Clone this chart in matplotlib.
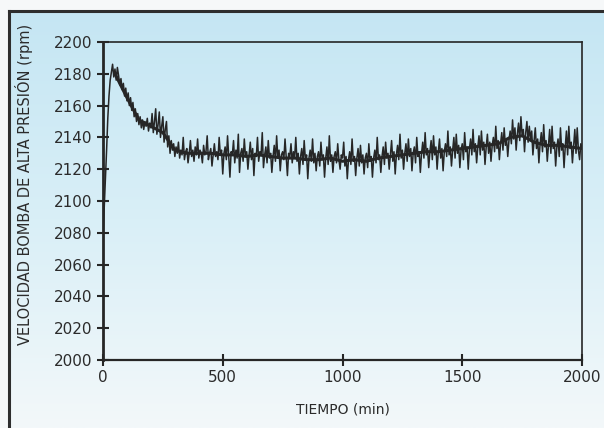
import numpy as np
import matplotlib
matplotlib.use("Agg")
import matplotlib.pyplot as plt
from matplotlib.colors import LinearSegmentedColormap

# raw signal, one reading every 5 min (0..2000), 20 readings per row
tiempo = np.arange(0, 2001, 5)
velocidad = [
    2077, 2095, 2112, 2132, 2152, 2166, 2176, 2181, 2186, 2178, 2183, 2176, 2184, 2179, 2173, 2177, 2170, 2174, 2166, 2171,
    2163, 2168, 2160, 2165, 2157, 2162, 2153, 2158, 2150, 2155, 2148, 2153, 2146, 2151, 2145, 2150, 2147, 2152, 2144, 2149,
    2146, 2155, 2143, 2150, 2158, 2142, 2148, 2156, 2140, 2147, 2153, 2137, 2145, 2150, 2134, 2141, 2130, 2138, 2132, 2136,
    2128, 2134, 2130, 2137, 2127, 2132, 2129, 2140, 2126, 2131, 2133, 2124, 2130, 2138, 2128, 2132, 2125, 2134, 2129, 2139,
    2127, 2132, 2130, 2124, 2135, 2129, 2131, 2141, 2126, 2130, 2133, 2122, 2129, 2136, 2128, 2131, 2126, 2140, 2129, 2132,
    2117, 2130, 2134, 2126, 2141, 2128, 2115, 2131, 2129, 2138, 2124, 2132, 2127, 2142, 2118, 2130, 2133, 2125, 2139, 2128,
    2131, 2120, 2129, 2137, 2126, 2133, 2116, 2130, 2128, 2140, 2125, 2131, 2129, 2143, 2121, 2129, 2134, 2124, 2138, 2127,
    2130, 2118, 2128, 2135, 2125, 2141, 2127, 2132, 2119, 2129, 2131, 2126, 2139, 2127, 2116, 2130, 2128, 2136, 2124, 2131,
    2127, 2140, 2125, 2130, 2117, 2128, 2133, 2123, 2138, 2126, 2129, 2114, 2127, 2132, 2125, 2139, 2124, 2130, 2119, 2128,
    2131, 2122, 2137, 2126, 2129, 2115, 2127, 2134, 2123, 2141, 2125, 2129, 2118, 2128, 2131, 2124, 2136, 2126, 2120, 2129,
    2127, 2137, 2122, 2128, 2114, 2126, 2131, 2123, 2139, 2125, 2128, 2116, 2127, 2133, 2122, 2135, 2124, 2129, 2117, 2127,
    2130, 2121, 2136, 2125, 2128, 2115, 2127, 2132, 2124, 2140, 2126, 2129, 2118, 2128, 2134, 2123, 2137, 2127, 2130, 2120,
    2129, 2138, 2125, 2131, 2117, 2129, 2135, 2126, 2142, 2127, 2132, 2120, 2130, 2136, 2125, 2139, 2128, 2133, 2119, 2130,
    2134, 2124, 2140, 2128, 2131, 2118, 2130, 2137, 2127, 2143, 2129, 2133, 2121, 2131, 2138, 2126, 2141, 2129, 2134, 2120,
    2131, 2139, 2127, 2133, 2119, 2131, 2136, 2128, 2144, 2129, 2134, 2122, 2132, 2140, 2127, 2142, 2130, 2135, 2121, 2132,
    2136, 2126, 2143, 2131, 2134, 2120, 2133, 2139, 2129, 2145, 2131, 2136, 2124, 2134, 2141, 2129, 2144, 2132, 2137, 2123,
    2134, 2142, 2130, 2137, 2125, 2135, 2140, 2131, 2147, 2133, 2138, 2126, 2136, 2143, 2132, 2146, 2135, 2139, 2128, 2138,
    2144, 2136, 2151, 2139, 2146, 2132, 2142, 2149, 2138, 2153, 2141, 2145, 2131, 2143, 2150, 2137, 2147, 2139, 2144, 2129,
    2138, 2146, 2133, 2139, 2124, 2136, 2143, 2131, 2148, 2134, 2138, 2125, 2135, 2145, 2130, 2147, 2133, 2137, 2122, 2134,
    2139, 2128, 2146, 2132, 2136, 2121, 2134, 2144, 2129, 2147, 2133, 2137, 2124, 2135, 2145, 2130, 2146, 2132, 2126, 2136,
    2133,
]
assert len(velocidad) == len(tiempo)

# smoothed trend, every 50 min from the peak on
tiempo_media = np.arange(50, 2001, 50)
velocidad_media = [
    2180, 2165, 2151, 2147, 2143, 2132, 2130, 2130, 2130,
    2129, 2129, 2128, 2129, 2128, 2127, 2127, 2126, 2126, 2127,
    2125, 2126, 2125, 2127, 2128, 2129, 2130, 2131, 2131, 2132,
    2133, 2134, 2135, 2136, 2140, 2141, 2137, 2135, 2135, 2134,
    2133,
]

x_ticks = [0, 500, 1000, 1500, 2000]
y_ticks = list(range(2000, 2201, 20))

ink = '#262626'
text_col = '#2b2b2b'

fig = plt.figure(figsize=(6.04, 4.28), dpi=100)
fig.patch.set_facecolor('#f6f8f9')

# light blue panel fading to white
bg = fig.add_axes([9 / 604, 0, 1 - 9 / 604, 1 - 11 / 428], zorder=-5)
grad = LinearSegmentedColormap.from_list('panel', ['#c5e6f3', '#d9eff7', '#f3f8fa'])
bg.imshow(np.linspace(0, 1, 256).reshape(-1, 1), aspect='auto', cmap=grad,
          extent=[0, 1, 0, 1])
bg.set_xticks([])
bg.set_yticks([])
for side in ['right', 'bottom']:
    bg.spines[side].set_visible(False)
for side in ['left', 'top']:
    bg.spines[side].set_linewidth(2.2)
    bg.spines[side].set_color('#2e2e2e')

ax = fig.add_axes([103 / 604, 1 - 360 / 428, 479 / 604, 318 / 428])
ax.set_facecolor('none')

ax.plot(tiempo, velocidad, color=ink, lw=1.1)
ax.plot(tiempo_media, velocidad_media, color=ink, lw=2.2)

ax.set_xlim(0, 2000)
ax.set_ylim(2000, 2200)
ax.set_xticks(x_ticks)
ax.set_yticks(y_ticks)
ax.tick_params(direction='inout', length=9, width=1.5, color=ink,
               labelsize=11, labelcolor=text_col, pad=3)

for side in ax.spines.values():
    side.set_color(ink)
ax.spines['left'].set_linewidth(2.0)
ax.spines['bottom'].set_linewidth(1.6)
ax.spines['top'].set_linewidth(1.2)
ax.spines['right'].set_linewidth(1.2)

ax.set_xlabel('TIEMPO (min)', fontsize=10, color=text_col, labelpad=12)
ax.set_ylabel('VELOCIDAD BOMBA DE ALTA PRESIÓN (rpm)', fontsize=10.5,
              color=text_col)
# the axis title sits a bit above the middle of the axis in the original
ax.yaxis.set_label_coords(-0.146, 0.553)

fig.savefig('out.png', dpi=100, facecolor=fig.get_facecolor())
